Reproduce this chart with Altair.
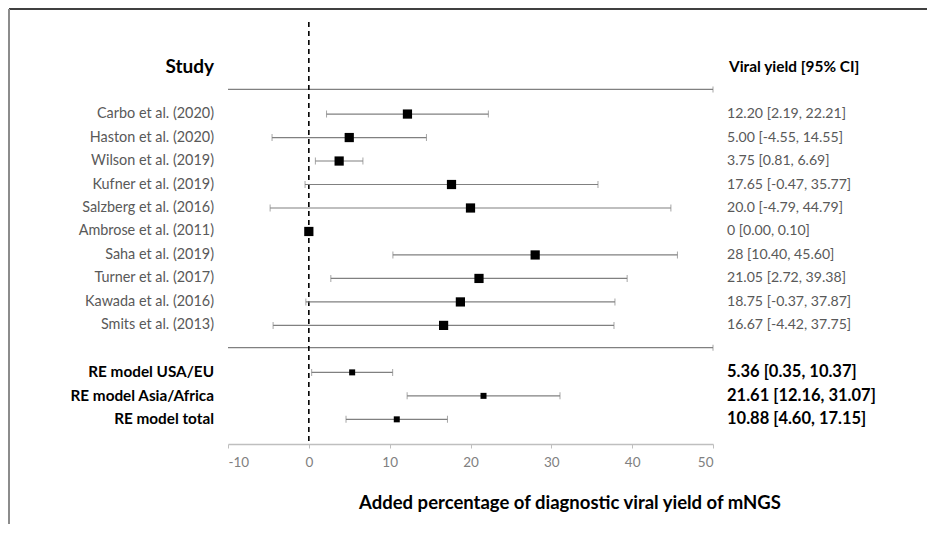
import altair as alt
import pandas as pd

# ---- data ----
studies = ["Carbo et al. (2020)", "Haston et al. (2020)", "Wilson et al. (2019)",
           "Kufner et al. (2019)", "Salzberg et al. (2016)", "Ambrose et al. (2011)",
           "Saha et al. (2019)", "Turner et al. (2017)", "Kawada et al. (2016)",
           "Smits et al. (2013)"]
study_est = [12.20, 5.00, 3.75, 17.65, 20.0, 0, 28, 21.05, 18.75, 16.67]
study_lo = [2.19, -4.55, 0.81, -0.47, -4.79, 0.00, 10.40, 2.72, -0.37, -4.42]
study_hi = [22.21, 14.55, 6.69, 35.77, 44.79, 0.10, 45.60, 39.38, 37.87, 37.75]
study_ci = ["12.20 [2.19, 22.21]", "5.00 [-4.55, 14.55]", "3.75 [0.81, 6.69]",
            "17.65 [-0.47, 35.77]", "20.0 [-4.79, 44.79]", "0 [0.00, 0.10]",
            "28 [10.40, 45.60]", "21.05 [2.72, 39.38]", "18.75 [-0.37, 37.87]",
            "16.67 [-4.42, 37.75]"]
study_row = [2, 3, 4, 5, 6, 7, 8, 9, 10, 11]

models = ["RE model USA/EU", "RE model Asia/Africa", "RE model total"]
model_est = [5.36, 21.61, 10.88]
model_lo = [0.35, 12.16, 4.60]
model_hi = [10.37, 31.07, 17.15]
model_ci = ["5.36 [0.35, 10.37]", "21.61 [12.16, 31.07]", "10.88 [4.60, 17.15]"]
model_row = [13, 14, 15]

sep_rows = [0.95, 11.95]
sep_lo = [-10, -10]
sep_hi = [50, 50]

headers = ["Study", "Viral yield [95% CI]"]
header_row = [0, 0]

x_ticks = [-10, 0, 10, 20, 30, 40, 50]
x_title = "Added percentage of diagnostic viral yield of mNGS"

# ---- tables ----
sdf = pd.DataFrame({"label": studies, "est": study_est, "lo": study_lo,
                    "hi": study_hi, "ci": study_ci, "r": study_row})
mdf = pd.DataFrame({"label": models, "est": model_est, "lo": model_lo,
                    "hi": model_hi, "ci": model_ci, "r": model_row})
sepdf = pd.DataFrame({"lo": sep_lo, "hi": sep_hi, "r": sep_rows})
hdf = pd.DataFrame({"h": headers, "r": header_row})

FONT = "Lato"
W, H = 485, 422
GREY = "#808080"

xscale = alt.Scale(domain=[-10, 50], nice=False, zero=False)
xaxis = alt.Axis(values=x_ticks, grid=False, domainColor="#BFBFBF", tickColor="#BFBFBF",
                 tickSize=4, labelColor=GREY, labelFont=FONT, labelFontSize=13.5,
                 labelPadding=7, title=None, domainWidth=1.5,
                 labelExpr="toString(datum.value)")
yscale = alt.Scale(domain=[-1.92, 16.05], reverse=True, nice=False, zero=False)


def X(f):
    return alt.X(f, type="quantitative", scale=xscale, axis=xaxis)


def Y(f="r"):
    return alt.Y(f, type="quantitative", scale=yscale, axis=None)


base_s = alt.Chart(sdf)
base_m = alt.Chart(mdf)

# separators
sep = alt.Chart(sepdf).mark_rule(color=GREY, strokeWidth=1.2).encode(
    x=X("lo"), x2="hi", y=Y())
sep_cap = alt.Chart(sepdf).mark_tick(orient="vertical", color=GREY, thickness=1, size=6).encode(
    x=X("hi"), y=Y())

# dashed zero line
zero_df = pd.DataFrame({"z": [0]})
zero = alt.Chart(zero_df).mark_rule(color="black", strokeDash=[5, 4], strokeWidth=1.6).encode(
    x=X("z"), y=alt.value(0), y2=alt.value(H))


# error bars
def ci_layers(base, cap):
    line = base.mark_rule(color=GREY, strokeWidth=1.2).encode(x=X("lo"), x2="hi", y=Y())
    c1 = base.mark_tick(orient="vertical", color=GREY, thickness=1, size=cap).encode(x=X("lo"), y=Y())
    c2 = base.mark_tick(orient="vertical", color=GREY, thickness=1, size=cap).encode(x=X("hi"), y=Y())
    return [line, c1, c2]


s_pts = base_s.mark_point(shape="square", filled=True, color="black", opacity=1, size=85).encode(
    x=X("est"), y=Y())
m_pts = base_m.mark_point(shape="square", filled=True, color="black", opacity=1, size=36).encode(
    x=X("est"), y=Y())

# labels
s_lab = base_s.mark_text(align="right", baseline="middle", font=FONT, fontSize=14.4,
                         color="#595959").encode(x=alt.value(-14), y=Y(), text="label")
s_ci = base_s.mark_text(align="left", baseline="middle", font=FONT, fontSize=14.1,
                        color="#595959").encode(x=alt.value(499), y=Y(), text="ci")
m_lab = base_m.mark_text(align="right", baseline="middle", font=FONT, fontSize=15.3,
                         fontWeight="bold", color="black").encode(x=alt.value(-14), y=Y(), text="label")
m_ci = base_m.mark_text(align="left", baseline="middle", font=FONT, fontSize=16.5,
                        fontWeight="bold", color="black").encode(x=alt.value(499), y=Y(), text="ci")

h_study = alt.Chart(hdf.iloc[[0]]).mark_text(align="right", baseline="middle", font=FONT,
                                             fontSize=19, fontWeight="bold", color="black").encode(
    x=alt.value(-14), y=Y(), text="h")
h_ci = alt.Chart(hdf.iloc[[1]]).mark_text(align="left", baseline="middle", font=FONT,
                                          fontSize=15.4, fontWeight="bold", color="black").encode(
    x=alt.value(501), y=Y(), text="h")

title_df = pd.DataFrame({"t": [x_title]})
title = alt.Chart(title_df).mark_text(align="center", baseline="middle", font=FONT, fontSize=18.5,
                                      fontWeight="bold", color="black").encode(
    x=alt.value(342), y=alt.value(481), text="t")

# frame lines
frame_df = pd.DataFrame({"k": ["frame"]})
top_line = alt.Chart(frame_df).mark_rule(color="black", strokeWidth=1.5).encode(
    x=alt.value(-219), x2=alt.value(699), y=alt.value(-13))
left_line = alt.Chart(frame_df).mark_rule(color="#8c8c8c", strokeWidth=2).encode(
    x=alt.value(-219), y=alt.value(-13), y2=alt.value(514))

layers = [top_line, left_line, sep, sep_cap, zero] + ci_layers(base_s, 7) + ci_layers(base_m, 7) + \
    [s_pts, m_pts, s_lab, s_ci, m_lab, m_ci, h_study, h_ci, title]

chart = alt.layer(*layers).properties(
    width=W, height=H,
    autosize=alt.AutoSizeParams(type="none"),
    padding={"left": 220, "top": 14, "right": 214, "bottom": 80},
).configure_view(stroke=None)

chart.save("out.html", embed_options={"renderer": "svg", "actions": False})
